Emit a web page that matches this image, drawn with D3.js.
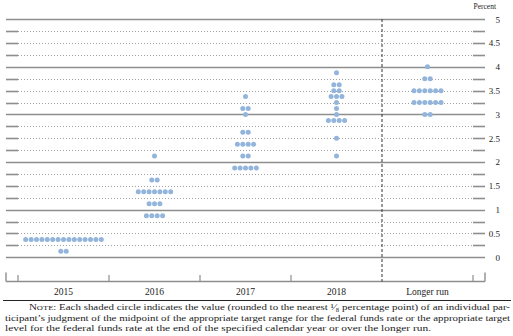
<!DOCTYPE html>
<html>
<head>
<meta charset="utf-8">
<script src="https://cdn.jsdelivr.net/npm/d3@7"></script>
<style>
  html, body { margin: 0; padding: 0; background: #fff; }
  svg { display: block; }
  text { font-family: "Liberation Serif", "DejaVu Serif", serif; fill: #222; }
</style>
</head>
<body>
<svg id="chart" width="513" height="336"></svg>
<script>
// ---- data ----
const categories = ["2015", "2016", "2017", "2018", "Longer run"];
// [value (percent), number of participants]
const proj2015 = [[0.375, 15], [0.125, 2]];
const proj2016 = [[2.125, 1], [1.625, 2], [1.375, 7], [1.125, 3], [0.875, 4]];
const proj2017 = [[3.375, 1], [3.125, 2], [3.0, 1], [2.625, 2], [2.375, 4], [2.125, 2], [1.875, 5]];
const proj2018 = [[3.875, 1], [3.625, 2], [3.5, 2], [3.375, 3], [3.25, 1], [3.125, 1], [3.0, 1], [2.875, 4], [2.5, 1], [2.125, 1]];
const projLonger = [[4.0, 1], [3.75, 2], [3.5, 6], [3.25, 6], [3.0, 2]];
const yTicks = [0, 0.5, 1, 1.5, 2, 2.5, 3, 3.5, 4, 4.5, 5];
const noteLines = [
  "Each shaded circle indicates the value (rounded to the nearest \u00B9\u2044\u2088 percentage point) of an individual par-",
  "ticipant\u2019s judgment of the midpoint of the appropriate target range for the federal funds rate or the appropriate target",
  "level for the federal funds rate at the end of the specified calendar year or over the longer run."
];

const series = [proj2015, proj2016, proj2017, proj2018, projLonger];

// ---- layout ----
const svg = d3.select("#chart");
const left = 6, right = 485, inL = 18, inR = 473;
const y = d3.scaleLinear().domain([0, 5]).range([257.3, 19.2]);
const x = d3.scaleBand().domain(categories).range([inL, inR]);
const gridColor = "#8e8e8e";

// quarter gridlines
const quarters = d3.range(0, 5.001, 0.25);
const grid = svg.append("g");
quarters.forEach(v => {
  const yy = Math.round(y(v)) + 0.5;
  if (Math.abs(v - Math.round(v)) < 1e-9) {
    grid.append("line").attr("x1", left).attr("x2", right).attr("y1", yy).attr("y2", yy)
      .attr("stroke", gridColor).attr("stroke-width", 1.6);
  } else {
    grid.append("line").attr("x1", inL).attr("x2", inR).attr("y1", yy).attr("y2", yy)
      .attr("stroke", "#a0a0a0").attr("stroke-width", 1).attr("stroke-dasharray", "1,2");
    grid.append("line").attr("x1", left).attr("x2", inL).attr("y1", yy).attr("y2", yy)
      .attr("stroke", gridColor).attr("stroke-width", 1.6);
    grid.append("line").attr("x1", inR).attr("x2", right).attr("y1", yy).attr("y2", yy)
      .attr("stroke", gridColor).attr("stroke-width", 1.6);
  }
});

// bottom axis frame
const axisY = 281.5;
svg.append("line").attr("x1", left).attr("x2", right).attr("y1", axisY).attr("y2", axisY)
  .attr("stroke", gridColor).attr("stroke-width", 1.4);
[left, right].forEach(xx => {
  svg.append("line").attr("x1", xx).attr("x2", xx).attr("y1", 272.5).attr("y2", axisY)
    .attr("stroke", gridColor).attr("stroke-width", 1.4);
});
const bounds = [inL, x("2016"), x("2017"), x("2018"), inR];
bounds.forEach(xx => {
  svg.append("line").attr("x1", xx).attr("x2", xx).attr("y1", 275).attr("y2", axisY)
    .attr("stroke", gridColor).attr("stroke-width", 1.2);
});

// vertical dashed separator before "Longer run"
const sepX = x("Longer run");
svg.append("line").attr("x1", sepX).attr("x2", sepX).attr("y1", 19).attr("y2", axisY)
  .attr("stroke", "#333").attr("stroke-width", 1).attr("stroke-dasharray", "3,2");

// dots
const spacing = 5.4, r = 2.5;
series.forEach((rows, i) => {
  const cx = x(categories[i]) + x.bandwidth() / 2;
  rows.forEach(([v, n]) => {
    const g = svg.append("g");
    g.selectAll("circle").data(d3.range(n)).join("circle")
      .attr("cx", k => cx + (k - (n - 1) / 2) * spacing)
      .attr("cy", y(v))
      .attr("r", r)
      .attr("fill", "#93b5dc");
  });
});

// y axis labels (right)
const yAxis = d3.axisRight(y).tickValues(yTicks).tickSize(0).tickPadding(0)
  .tickFormat(d3.format("~g"));
const gy = svg.append("g").attr("transform", "translate(500,0)").call(yAxis);
gy.select(".domain").remove();
gy.selectAll("text").attr("text-anchor", "end").attr("font-size", 9)
  .attr("font-family", "Liberation Serif, serif").attr("fill", "#333");

svg.append("text").attr("x", 496).attr("y", 9).attr("text-anchor", "end")
  .attr("font-size", 7.5).attr("fill", "#444").text("Percent");

// x axis labels
const xAxis = d3.axisBottom(x).tickSize(0).tickPadding(0);
const gx = svg.append("g").attr("transform", "translate(0,288)").call(xAxis);
gx.select(".domain").remove();
gx.selectAll("text").attr("font-size", 9.5).attr("font-family", "Liberation Serif, serif").attr("fill", "#333");

// rule
svg.append("line").attr("x1", 3).attr("x2", 511).attr("y1", 300.5).attr("y2", 300.5)
  .attr("stroke", "#222").attr("stroke-width", 1);

// note
const note = svg.append("g").attr("font-size", 9).attr("fill", "#222");
const l1 = note.append("text").attr("x", 29).attr("y", 310)
  .attr("textLength", 481).attr("lengthAdjust", "spacingAndGlyphs");
l1.append("tspan").attr("font-size", 9).text("N");
l1.append("tspan").attr("font-size", 7).text("OTE");
l1.append("tspan").text(": " + noteLines[0]);
note.append("text").attr("x", 5).attr("y", 320.5).attr("textLength", 505)
  .attr("lengthAdjust", "spacingAndGlyphs").text(noteLines[1]);
note.append("text").attr("x", 5).attr("y", 331).attr("textLength", 426)
  .attr("lengthAdjust", "spacingAndGlyphs").text(noteLines[2]);
</script>
</body>
</html>
